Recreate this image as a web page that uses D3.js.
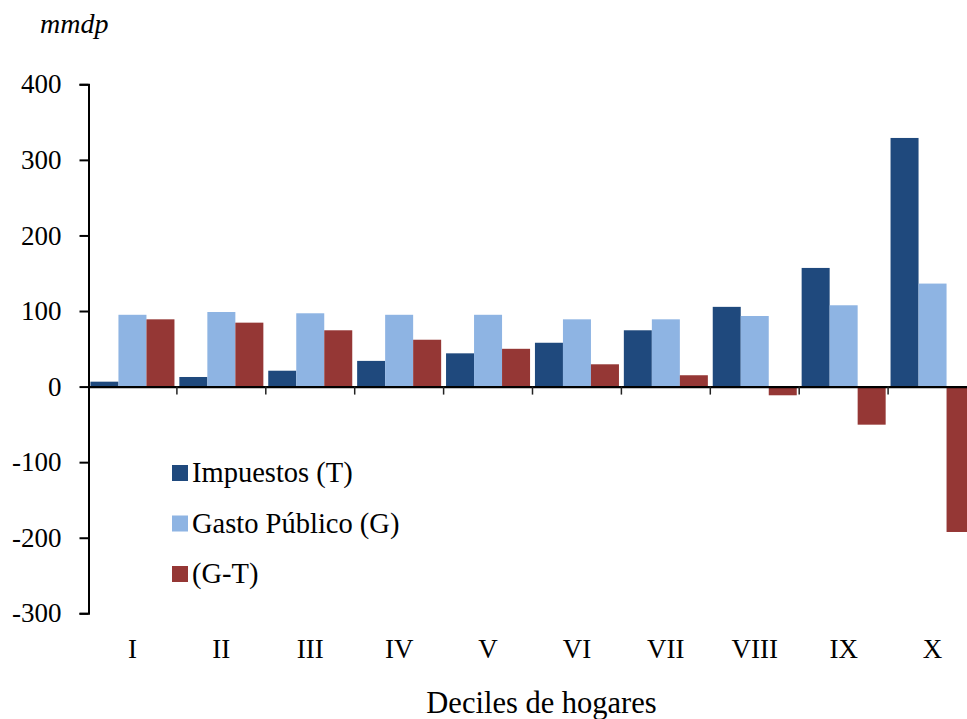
<!DOCTYPE html>
<html>
<head>
<meta charset="utf-8">
<script src="https://cdn.jsdelivr.net/npm/d3@7"></script>
<style>
  html, body { margin: 0; padding: 0; background: #fff; }
  svg { display: block; }
  text { font-family: "Liberation Serif", "Times New Roman", serif; fill: #000; }
</style>
</head>
<body>
<svg id="chart" width="967" height="719"></svg>
<script>
const categories = ["I", "II", "III", "IV", "V", "VI", "VII", "VIII", "IX", "X"];
const seriesNames = ["Impuestos (T)", "Gasto Público (G)", "(G-T)"];
const impuestos = [6.5, 12.7, 21, 34, 44, 58, 74.5, 105.5, 157, 329];
const gasto = [95, 98.7, 97, 95, 95, 89, 89, 93.4, 107.6, 136.3];
const gMenosT = [89, 84.6, 74.5, 62, 50, 29.5, 15, -11.5, -50.4, -192.4];
const yTicks = [-300, -200, -100, 0, 100, 200, 300, 400];
const colors = ["#1F497D", "#8EB4E3", "#953735"];
const yUnit = "mmdp";
const xTitle = "Deciles de hogares";

const seriesValues = [impuestos, gasto, gMenosT];
const svg = d3.select("#chart");

const x = d3.scaleBand().domain(categories).range([88, 977]).paddingInner(0).paddingOuter(0);
const bw = x.bandwidth();
const gap = bw * 0.055;
const xSub = d3.scaleBand().domain(d3.range(3)).range([gap / 2, bw - gap / 2]).paddingInner(0);
const y = d3.scaleLinear().domain([-300, 400]).range([613.3, 84.3]);

// bars
seriesValues.forEach((vals, si) => {
  svg.append("g").selectAll("rect")
    .data(vals.map((v, i) => ({ cat: categories[i], v })))
    .join("rect")
    .attr("x", d => x(d.cat) + xSub(si))
    .attr("width", xSub.bandwidth())
    .attr("y", d => y(Math.max(0, d.v)))
    .attr("height", d => Math.abs(y(d.v) - y(0)))
    .attr("fill", colors[si]);
});

// y axis
const yAxis = d3.axisLeft(y).tickValues(yTicks).tickSize(9).tickPadding(18)
  .tickFormat(d => String(d));
const gy = svg.append("g").attr("transform", "translate(88.5,0)").call(yAxis);
gy.select(".domain").attr("stroke", "#000").attr("stroke-width", 2);
gy.selectAll(".tick line").attr("stroke", "#000").attr("stroke-width", 2);
gy.selectAll(".tick text").attr("font-size", 27).attr("font-family", "Liberation Serif");

// zero line / x axis
const xAxis = d3.axisBottom(x).tickSize(0).tickFormat(() => "");
const gx = svg.append("g").attr("transform", `translate(0,${y(0)})`).call(xAxis);
gx.select(".domain").attr("stroke", "#000").attr("stroke-width", 2.4);
// category boundary ticks
svg.append("g").selectAll("line")
  .data(categories.slice(1))
  .join("line")
  .attr("x1", d => x(d)).attr("x2", d => x(d))
  .attr("y1", y(0)).attr("y2", y(0) + 8)
  .attr("stroke", "#222").attr("stroke-width", 1.5);

// category labels at bottom
svg.append("g").selectAll("text")
  .data(categories)
  .join("text")
  .attr("x", d => x(d) + bw / 2)
  .attr("y", 658)
  .attr("text-anchor", "middle")
  .attr("font-size", 27)
  .text(d => d);

// unit label
svg.append("text")
  .attr("x", 40).attr("y", 33)
  .attr("font-size", 28).attr("font-style", "italic")
  .text(yUnit);

// x title
svg.append("text")
  .attr("x", 541.5).attr("y", 713)
  .attr("text-anchor", "middle")
  .attr("font-size", 30.5)
  .text(xTitle);

// legend
const legend = svg.append("g").selectAll("g")
  .data(seriesNames)
  .join("g")
  .attr("transform", (d, i) => `translate(172,${465 + i * 50.5})`);
legend.append("rect").attr("width", 16).attr("height", 16).attr("fill", (d, i) => colors[i]);
legend.append("text").attr("x", 20).attr("y", 17).attr("font-size", 28.5).text(d => d);
</script>
</body>
</html>
